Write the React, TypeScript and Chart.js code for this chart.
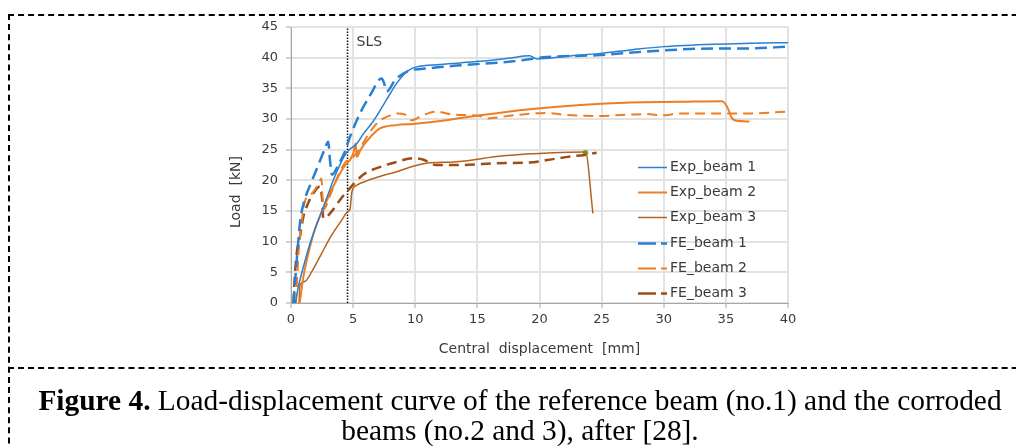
import React, { useEffect, useRef } from "react";
import { Chart, registerables } from "chart.js";

Chart.register(...registerables);

// ---- data (displacement [mm], load [kN]) ----
const seriesNames = ["Exp_beam 1", "Exp_beam 2", "Exp_beam 3", "FE_beam 1", "FE_beam 2", "FE_beam 3"];

const expBeam1: [number, number][] = [
  [0.35, 0], [0.6, 2.7], [1.0, 5.9], [1.5, 9.5], [2.2, 13.5], [3.0, 17.8], [3.4, 20], [4.0, 22.8],
  [4.5, 24.6], [5.3, 26], [5.8, 27.5], [6.5, 29.3], [7.2, 31.5], [8.0, 34.2], [8.5, 35.8], [9.2, 37.5],
  [9.6, 38.1], [10.1, 38.5], [12, 38.9], [15.2, 39.4], [17.5, 39.9], [19.2, 40.3], [19.8, 39.8],
  [22, 40.2], [24.9, 40.7], [27.5, 41.3], [30, 41.8], [34, 42.2], [37, 42.35], [40, 42.45],
];

const expBeam2: [number, number][] = [
  [0.7, 0], [1.0, 4.3], [1.4, 8.1], [1.9, 11.9], [2.6, 15.4], [3.4, 19], [4.2, 22], [5.0, 24.3],
  [5.2, 26.0], [5.3, 23.8], [5.6, 25.0], [6.4, 27.1], [7.2, 28.5], [8.5, 29.0], [9.8, 29.2],
  [12.5, 29.8], [15.2, 30.6], [19.2, 31.6], [23.3, 32.3], [27.3, 32.7], [31.3, 32.8], [34.7, 32.9],
  [35.1, 32.0], [35.5, 30.1], [35.9, 29.7], [36.9, 29.6],
];

const expBeam3: [number, number][] = [
  [0.65, 0], [0.72, 2.9], [1.1, 3.5], [1.67, 5.1], [2.47, 8.1], [3.28, 11.1], [4.08, 13.5],
  [4.56, 14.9], [4.75, 15.3], [4.9, 18.1], [5.3, 19.2], [6.2, 20.0], [7.6, 20.9], [8.5, 21.4],
  [9.5, 22.1], [10.9, 22.8], [13.1, 23.0], [17.1, 24.0], [21.1, 24.5], [23.7, 24.6], [24.3, 14.6],
];

const feBeam1: [number, number][] = [
  [0.2, 0], [0.5, 8], [0.75, 13.5], [1.1, 16.8], [1.6, 19.5], [2.2, 22.5], [2.7, 25], [3.0, 26.3],
  [3.15, 23], [3.3, 20.9], [3.8, 22.5], [4.3, 24.5], [4.75, 27.1], [5.55, 30.9], [6.6, 34.7],
  [7.0, 36.2], [7.3, 36.6], [7.5, 35.8], [7.7, 34.5], [8.4, 36.4], [9.3, 37.7], [11.2, 38.3],
  [13.9, 38.8], [17.9, 39.4], [20.6, 40.1], [24.6, 40.4], [28.6, 41.0], [34, 41.5], [36.7, 41.5],
  [40, 41.8],
];

const feBeam2: [number, number][] = [
  [0.4, 0], [0.6, 8], [0.85, 13], [1.1, 16.5], [1.7, 17.9], [2.3, 19.8], [2.45, 20.3], [2.6, 15.2],
  [3.2, 17.8], [3.8, 20.8], [4.4, 23], [5.0, 23.8], [5.6, 25.3], [6.1, 27.1], [6.7, 28.8],
  [7.2, 29.8], [8.0, 30.6], [8.6, 30.9], [9.2, 30.7], [9.7, 29.8], [10.6, 30.6], [11.7, 31.2],
  [13.1, 30.7], [15.2, 30.5], [15.75, 30.1], [17.9, 30.6], [20.6, 31.0], [21.9, 30.7], [24.6, 30.5],
  [28.6, 30.8], [29.9, 30.6], [31.3, 30.9], [36.7, 30.9], [40, 31.2],
];

const feBeam3: [number, number][] = [
  [0.2, 0], [0.28, 3.5], [0.46, 8.1], [0.72, 10.8], [1.0, 14.1], [1.26, 15.7], [1.8, 17.9],
  [2.33, 19.0], [2.5, 17], [2.6, 13.8], [3.14, 14.6], [3.94, 16.8], [4.6, 18.4], [5.8, 20.9],
  [7.2, 22.2], [8.5, 23.0], [9.84, 23.6], [10.6, 23.4], [11.7, 22.5], [13.9, 22.5], [16.6, 22.8],
  [19.2, 22.9], [20.6, 23.3], [22.5, 23.9], [23.5, 24.1], [24.6, 24.5],
];

const failurePoint: [number, number][] = [[23.7, 24.5]];
const slsDisplacement = 4.55;
const slsLine: [number, number][] = [[slsDisplacement, 0], [slsDisplacement, 45]];

const xMin = 0, xMax = 40, xStep = 5;
const yMin = 0, yMax = 45, yStep = 5;

const toXY = (arr: [number, number][]) => arr.map(([x, y]) => ({ x, y }));

const TICK_FONT = { family: "'DejaVu Sans', sans-serif", size: 13 };
const TEXT_COLOR = "#3a3a3a";

const overlayPlugin = {
  id: "overlay",
  afterDatasetsDraw(chart: any) {
    const { ctx, chartArea, scales } = chart;
    ctx.save();
    ctx.fillStyle = TEXT_COLOR;
    ctx.font = "14px 'DejaVu Sans', sans-serif";
    ctx.textBaseline = "middle";
    ctx.textAlign = "left";
    // SLS label
    ctx.fillText("SLS", scales.x.getPixelForValue(slsDisplacement) + 9, chartArea.top + 15);

    // legend
    const sx0 = chartArea.right - 150;
    const sx1 = chartArea.right - 121;
    const tx = chartArea.right - 118;
    for (let i = 0; i < 6; i++) {
      const ds = chart.data.datasets[i];
      const y = Math.round(chartArea.bottom - 10 - (5 - i) * 25.2) + 0.5;
      ctx.beginPath();
      ctx.strokeStyle = ds.borderColor;
      ctx.lineWidth = ds.borderWidth;
      ctx.setLineDash(ds.borderDash && ds.borderDash.length ? [18, 5] : []);
      ctx.moveTo(sx0, y);
      ctx.lineTo(sx1, y);
      ctx.stroke();
      ctx.setLineDash([]);
      ctx.fillStyle = TEXT_COLOR;
      ctx.fillText(seriesNames[i], tx, y);
    }

    // axis titles
    ctx.textAlign = "center";
    ctx.fillText("Central  displacement  [mm]", (chartArea.left + chartArea.right) / 2, chartArea.bottom + 46);
    ctx.translate(chartArea.left - 55, (chartArea.top + chartArea.bottom) / 2 + 27);
    ctx.rotate(-Math.PI / 2);
    ctx.fillText("Load  [kN]", 0, 0);
    ctx.restore();
  },
};

export default function App() {
  const ref = useRef<HTMLCanvasElement | null>(null);

  useEffect(() => {
    if (!ref.current) return;
    const blue = "#2a7fd0";
    const orange = "#ef7d22";
    const brown = "#b4621f";
    const darkBrown = "#9c4c14";
    const smooth = { cubicInterpolationMode: "monotone" };
    const chart = new Chart(ref.current, {
      type: "line",
      data: {
        datasets: [
          { label: seriesNames[0], data: toXY(expBeam1), borderColor: blue, borderWidth: 1.5, borderDash: [], ...smooth },
          { label: seriesNames[1], data: toXY(expBeam2), borderColor: orange, borderWidth: 2, borderDash: [], ...smooth },
          { label: seriesNames[2], data: toXY(expBeam3), borderColor: brown, borderWidth: 1.5, borderDash: [], ...smooth },
          { label: seriesNames[3], data: toXY(feBeam1), borderColor: blue, borderWidth: 2.5, borderDash: [12, 6], ...smooth },
          { label: seriesNames[4], data: toXY(feBeam2), borderColor: orange, borderWidth: 2, borderDash: [10, 6], ...smooth },
          { label: seriesNames[5], data: toXY(feBeam3), borderColor: darkBrown, borderWidth: 2.5, borderDash: [10, 6], ...smooth },
          { label: "SLS", data: toXY(slsLine), borderColor: "#111", borderWidth: 1.5, borderDash: [1.5, 1.5], tension: 0 },
          {
            label: "failure", data: toXY(failurePoint), showLine: false, pointRadius: 2.5,
            pointBackgroundColor: "#7fa845", pointBorderColor: "#7fa845", borderColor: "#7fa845",
          },
        ] as any,
      },
      options: {
        animation: false,
        responsive: false,
        devicePixelRatio: 1,
        elements: { point: { radius: 0 }, line: { tension: 0 } },
        layout: { padding: { left: 220, top: 27, right: 228, bottom: 103 } },
        plugins: { legend: { display: false }, tooltip: { enabled: false } },
        scales: {
          x: {
            type: "linear",
            min: xMin,
            max: xMax,
            afterFit: (s: any) => { s.height = 40; },
            ticks: { stepSize: xStep, font: TICK_FONT, color: TEXT_COLOR, padding: 4, maxRotation: 0 },
            grid: { color: "#e2e2e2", lineWidth: 2, tickLength: 5, tickColor: "#a6a6a6", tickWidth: 1 },
            border: { color: "#a6a6a6", width: 1 },
          },
          y: {
            type: "linear",
            min: yMin,
            max: yMax,
            afterFit: (s: any) => { s.width = 71; },
            ticks: { stepSize: yStep, font: TICK_FONT, color: TEXT_COLOR, padding: 8 },
            grid: { color: "#e2e2e2", lineWidth: 2, tickLength: 5, tickColor: "#a6a6a6", tickWidth: 1 },
            border: { color: "#a6a6a6", width: 1 },
          },
        },
      } as any,
      plugins: [overlayPlugin],
    });
    return () => chart.destroy();
  }, []);

  return (
    <div style={{ position: "fixed", left: 0, top: 0, width: 1016, height: 446, overflow: "hidden", background: "#fff" }}>
      <div style={{ position: "absolute", left: 8, top: 14, width: 1100, height: 0, borderTop: "2px dashed #000" }} />
      <div style={{ position: "absolute", left: 8, top: 14, width: 0, height: 500, borderLeft: "2px dashed #000" }} />
      <div style={{ position: "absolute", left: 8, top: 367, width: 1100, height: 0, borderTop: "2px dashed #000" }} />
      <canvas ref={ref} width={1016} height={446} style={{ position: "absolute", left: 0, top: 0, width: 1016, height: 446 }} />
      <div
        style={{
          position: "absolute", left: 10, top: 385, width: 1020, textAlign: "center", whiteSpace: "nowrap",
          fontFamily: "'Liberation Serif', 'Times New Roman', serif", fontSize: 29.4, lineHeight: "30px", color: "#000",
        }}
      >
        <b>Figure 4.</b> Load-displacement curve of the reference beam (no.1) and the corroded
        <br />
        beams (no.2 and 3), after [28].
      </div>
    </div>
  );
}
